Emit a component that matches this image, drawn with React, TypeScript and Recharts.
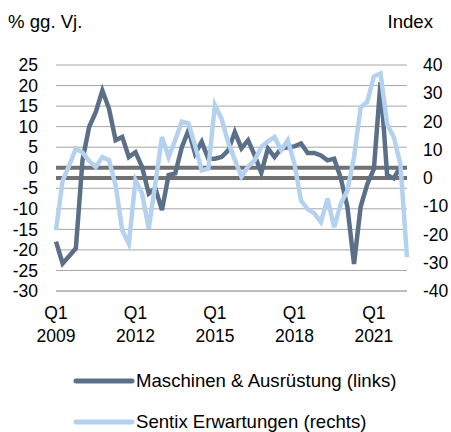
import React from "react";
import { LineChart, Line, XAxis, YAxis, CartesianGrid, ReferenceLine } from "recharts";

const quarters = [
  "Q1 2009", "Q2 2009", "Q3 2009", "Q4 2009",
  "Q1 2010", "Q2 2010", "Q3 2010", "Q4 2010",
  "Q1 2011", "Q2 2011", "Q3 2011", "Q4 2011",
  "Q1 2012", "Q2 2012", "Q3 2012", "Q4 2012",
  "Q1 2013", "Q2 2013", "Q3 2013", "Q4 2013",
  "Q1 2014", "Q2 2014", "Q3 2014", "Q4 2014",
  "Q1 2015", "Q2 2015", "Q3 2015", "Q4 2015",
  "Q1 2016", "Q2 2016", "Q3 2016", "Q4 2016",
  "Q1 2017", "Q2 2017", "Q3 2017", "Q4 2017",
  "Q1 2018", "Q2 2018", "Q3 2018", "Q4 2018",
  "Q1 2019", "Q2 2019", "Q3 2019", "Q4 2019",
  "Q1 2020", "Q2 2020", "Q3 2020", "Q4 2020",
  "Q1 2021", "Q2 2021", "Q3 2021", "Q4 2021",
  "Q1 2022", "Q2 2022",
];

// Maschinen & Ausrüstung, % gg. Vj. (left axis)
const maschinen = [
  -18, -23.3, -21.5, -19.6, 1.8, 9.9, 13.5, 18.8, 14.4, 6.7, 7.5, 2.6,
  3.8, 0.2, -6.3, -5, -10.3, -1.8, -1.4, 5, 9.1, 3.4, 6.3, 2.2,
  2.2, 2.6, 4.2, 8.7, 4.7, 6.7, 3.0, -1.2, 4.7, 2.6, 4.7, 5.0,
  5.2, 5.9, 3.6, 3.6, 3.0, 1.8, 2.2, -2.5, -9.5, -23.4, -9.5, -4,
  -0.3, 20.8, -1.8, -2.6, 0.2, null,
];

// Sentix Erwartungen, Index (right axis)
const sentix = [
  -18.5, -1, 4.5, 10.4, 9, 6, 3.9, 7.4, 6.3, -2.5, -18.5, -23.3,
  -0.8, -5.5, -17.9, -2, 14.5, 7.4, 13.4, 19.9, 19.3, 11.5, 2.7, 3.3,
  25.8, 21, 12.5, 6.5, 0.5, 4, 6.3, 11, 13, 14.5, 9.8, 13.4,
  5, -8, -11, -12.5, -15.6, -7.3, -17.4, -9.1, -4.4, 7.4, 25, 27,
  36, 37, 19, 14.5, 5, -28,
];

const leftTicks = [-30, -25, -20, -15, -10, -5, 0, 5, 10, 15, 20, 25];
const rightTicks = [-40, -30, -20, -10, 0, 10, 20, 30, 40];
const seriesNames = ["Maschinen & Ausrüstung (links)", "Sentix Erwartungen (rechts)"];
const leftTitle = "% gg. Vj.";
const rightTitle = "Index";

const data = quarters.map((q, i) => ({ q, m: maschinen[i], s: sentix[i] }));

const FONT = "'Liberation Sans', Arial, sans-serif";
const DARK = "#5b7088";
const LIGHT = "#b4d2ef";
const GRID = "#a6a6a6";
const ZERO = "#727070";
const FS = 17.5;
const LFS = 18.6;

function QuarterTick(props: any) {
  const { x, y, payload } = props;
  const parts = String(payload.value).split(" ");
  return (
    <text textAnchor="middle" fontFamily={FONT} fontSize={FS} fill="#000">
      <tspan x={x} y={y + 25.5}>{parts[0]}</tspan>
      <tspan x={x} y={y + 49}>{parts[1]}</tspan>
    </text>
  );
}

export default function App() {
  return (
    <div style={{ position: "absolute", left: 0, top: 0, width: 451, height: 432, background: "#fff" }}>
      <LineChart
        width={451}
        height={432}
        data={data}
        margin={{ top: 65, right: 0, bottom: 81, left: 0 }}
      >
        <CartesianGrid yAxisId="left" vertical={false} stroke={GRID} strokeWidth={1} />
        <XAxis
          dataKey="q"
          height={60}
          interval={11}
          tickSize={0}
          tickLine={false}
          axisLine={{ stroke: GRID }}
          tick={<QuarterTick />}
        />
        <YAxis
          yAxisId="left"
          orientation="left"
          width={56}
          domain={[-30, 25]}
          ticks={leftTicks}
          interval={0}
          tickSize={0}
          tickMargin={18}
          tickLine={false}
          axisLine={false}
          tick={{ fontFamily: FONT, fontSize: FS, fill: "#000" }}
        />
        <YAxis
          yAxisId="right"
          orientation="right"
          width={44}
          domain={[-40, 40]}
          ticks={rightTicks}
          interval={0}
          tickSize={0}
          tickMargin={16}
          tickLine={false}
          axisLine={false}
          tick={{ fontFamily: FONT, fontSize: FS, fill: "#000" }}
        />
        <ReferenceLine yAxisId="left" y={0} stroke={ZERO} strokeWidth={4} />
        <ReferenceLine yAxisId="right" y={0} stroke={ZERO} strokeWidth={4} />
        <Line
          yAxisId="left"
          type="linear"
          dataKey="m"
          name={seriesNames[0]}
          stroke={DARK}
          strokeWidth={4.5}
          dot={false}
          activeDot={false}
          isAnimationActive={false}
        />
        <Line
          yAxisId="right"
          type="linear"
          dataKey="s"
          name={seriesNames[1]}
          stroke={LIGHT}
          strokeWidth={4.5}
          dot={false}
          activeDot={false}
          isAnimationActive={false}
        />
      </LineChart>
      <svg
        width={451}
        height={432}
        style={{ position: "absolute", left: 0, top: 0, pointerEvents: "none" }}
      >
        <text x={8} y={28} fontFamily={FONT} fontSize={LFS} fill="#000">{leftTitle}</text>
        <text x={433} y={28} textAnchor="end" fontFamily={FONT} fontSize={LFS} fill="#000">{rightTitle}</text>
        <line x1={76} x2={132} y1={381} y2={381} stroke={DARK} strokeWidth={5} strokeLinecap="round" />
        <text x={136} y={387} fontFamily={FONT} fontSize={LFS} fill="#000">{seriesNames[0]}</text>
        <line x1={76} x2={132} y1={422} y2={422} stroke={LIGHT} strokeWidth={5} strokeLinecap="round" />
        <text x={136} y={428} fontFamily={FONT} fontSize={LFS} fill="#000">{seriesNames[1]}</text>
      </svg>
    </div>
  );
}
